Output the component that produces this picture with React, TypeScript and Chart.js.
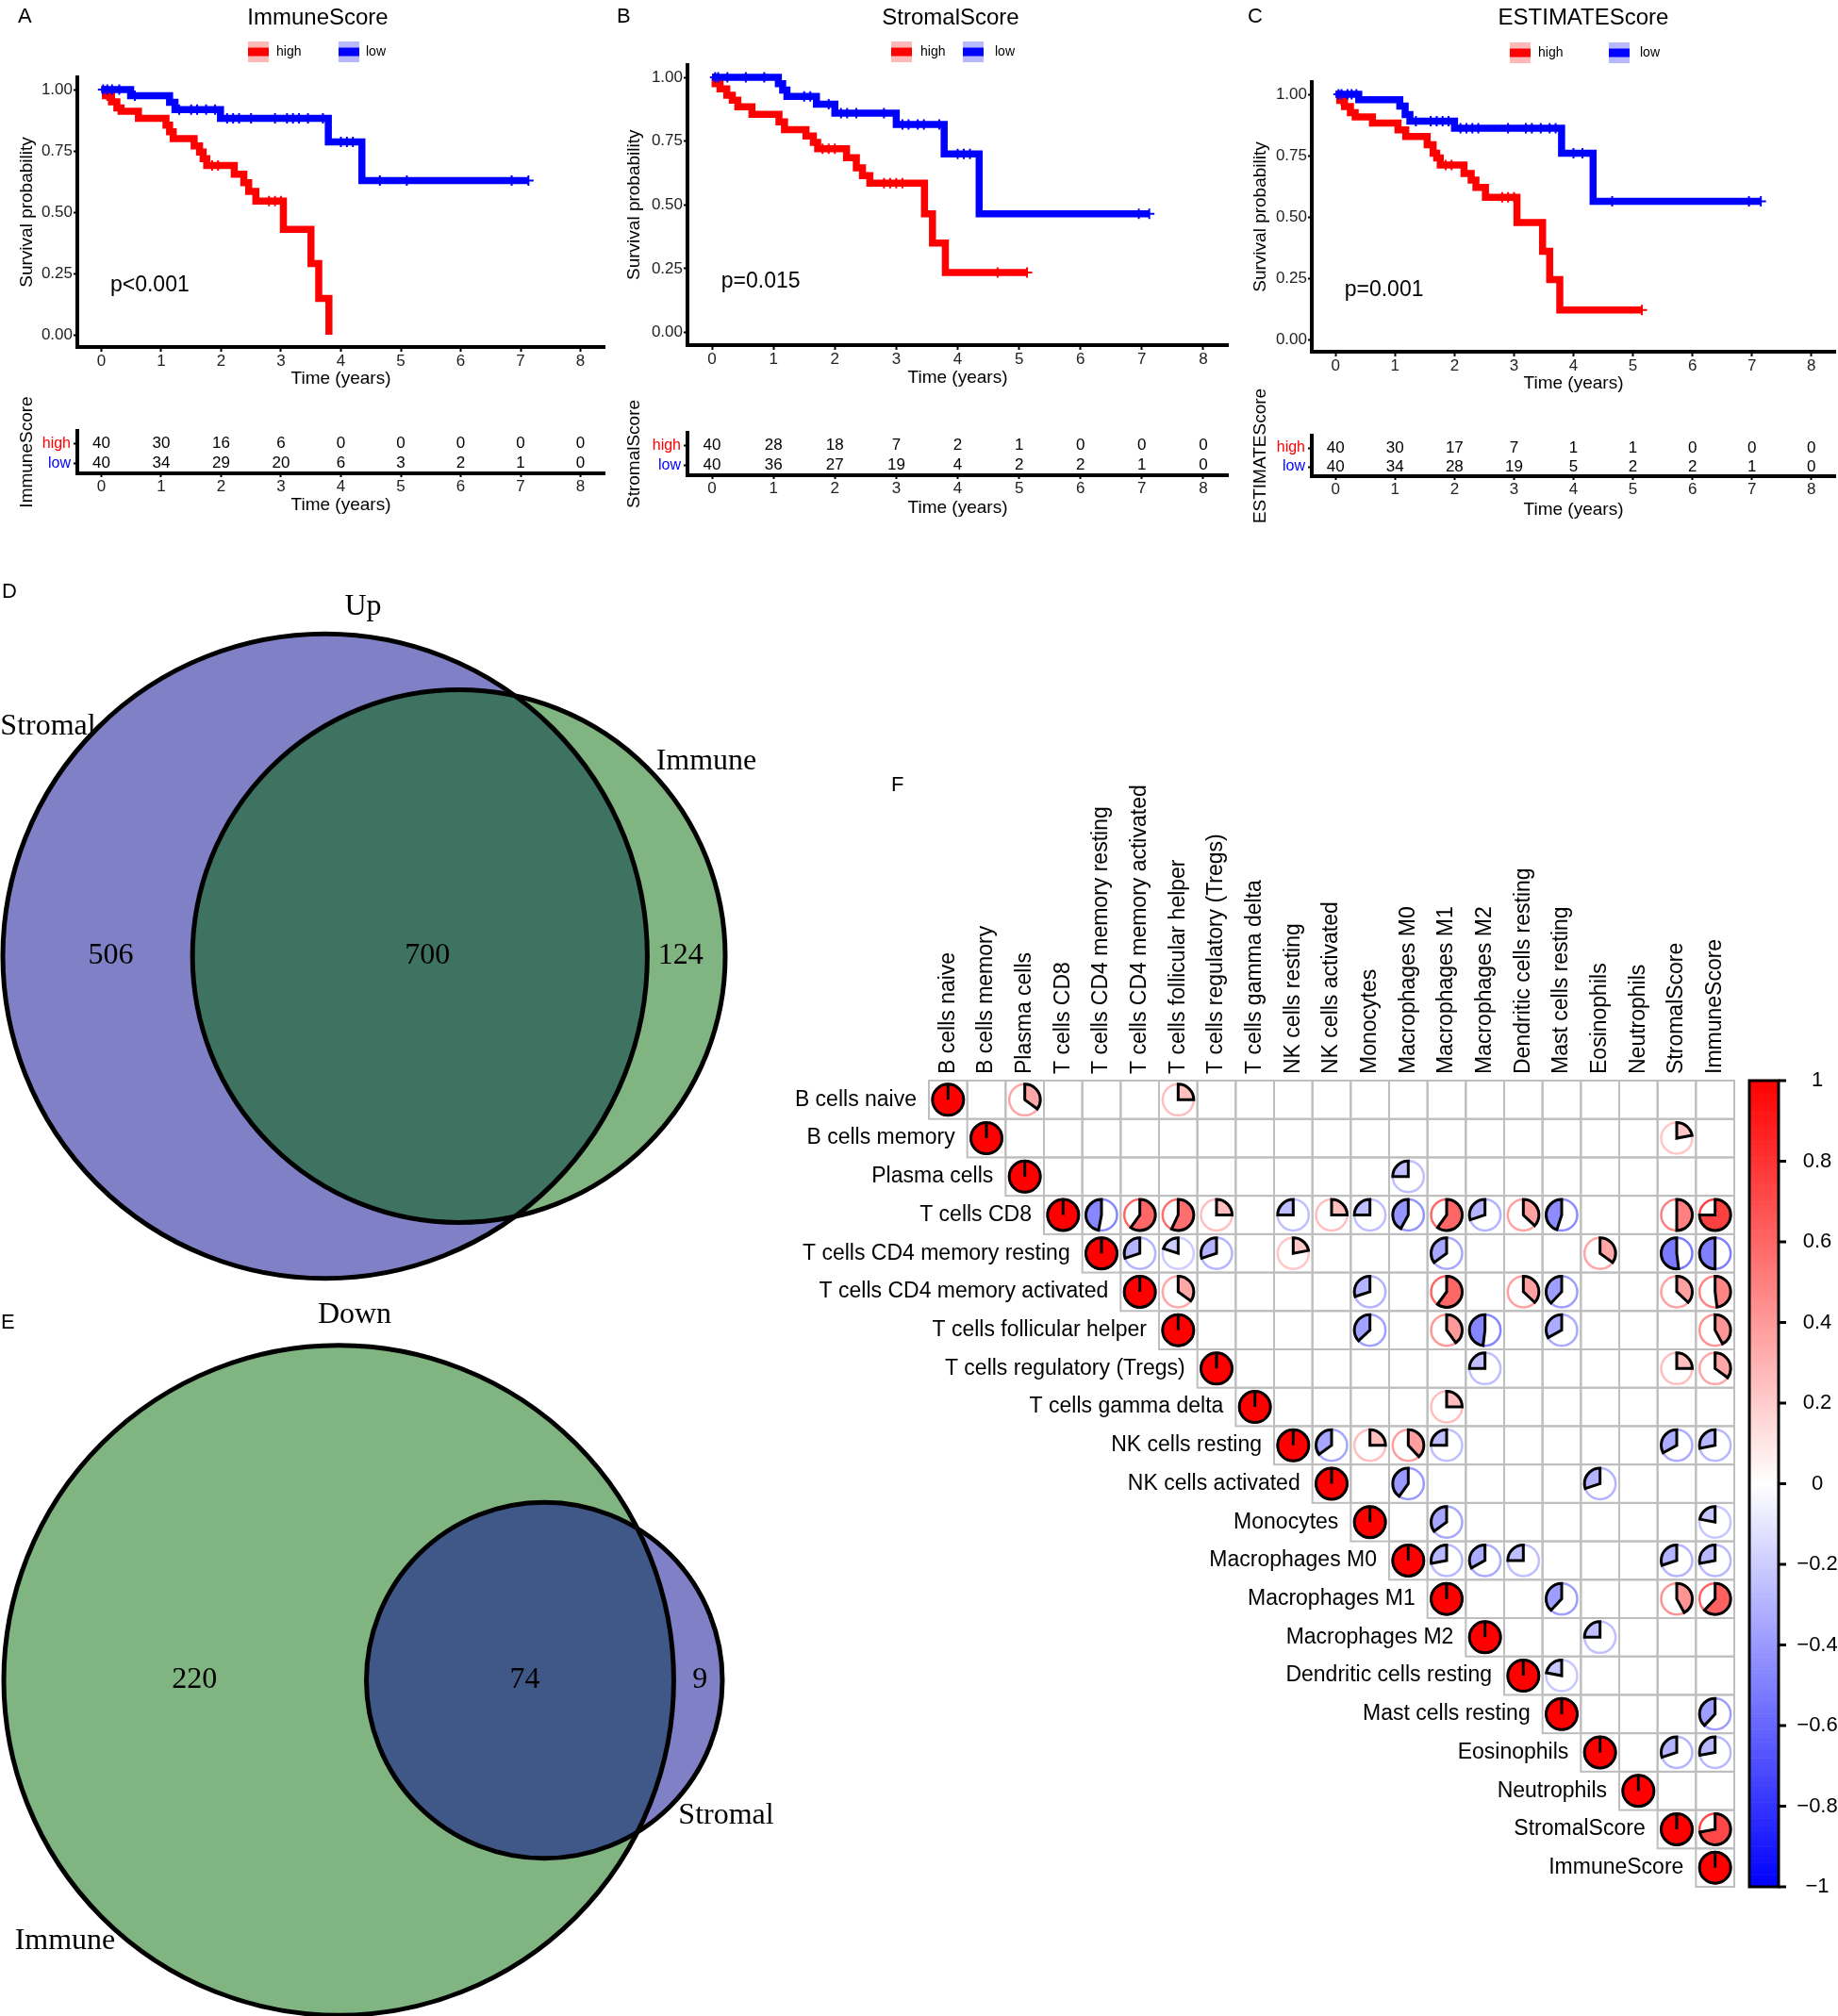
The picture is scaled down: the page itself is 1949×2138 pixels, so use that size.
import React, { useEffect, useRef } from 'react';
import { Chart, registerables } from 'chart.js';
Chart.register(...registerables);

const SANS = '"Liberation Sans", Arial, sans-serif';
const SERIF = '"Liberation Serif", "Times New Roman", serif';
Chart.defaults.font.family = SANS;

// ---------------- survival data ----------------
type Curve = [number, number][];
const timeTicks = [0, 1, 2, 3, 4, 5, 6, 7, 8];
const survTicks = [0, 0.25, 0.5, 0.75, 1];
const groupLabels = ['high', 'low'];

const immuneHigh: Curve = [[0, 1], [0.07, 0.975], [0.17, 0.95], [0.26, 0.925], [0.33, 0.912], [0.62, 0.883], [1.08, 0.855], [1.14, 0.828], [1.2, 0.8], [1.55, 0.77], [1.64, 0.745], [1.7, 0.718], [1.76, 0.69], [2.22, 0.655], [2.38, 0.62], [2.46, 0.585], [2.58, 0.545], [3.04, 0.43], [3.5, 0.29], [3.63, 0.148], [3.8, 0]];
const immuneLow: Curve = [[0, 1], [0.49, 0.975], [1.14, 0.948], [1.23, 0.918], [1.99, 0.883], [3.79, 0.787], [4.35, 0.629], [7.13, 0.629]];
const immuneHighCens = [0.1, 1.85, 1.95, 2.8, 2.9, 3.0];
const immuneLowCens = [0.03, 0.1, 0.18, 0.3, 0.56, 1.3, 1.5, 1.6, 1.75, 1.9, 2.1, 2.2, 2.3, 2.5, 2.9, 3.1, 3.2, 3.3, 3.45, 3.7, 4.0, 4.1, 4.2, 4.65, 5.1, 6.85, 7.13];
const immuneRiskHigh = [40, 30, 16, 6, 0, 0, 0, 0, 0];
const immuneRiskLow = [40, 34, 29, 20, 6, 3, 2, 1, 0];

const stromalHigh: Curve = [[0, 1], [0.05, 0.975], [0.13, 0.955], [0.24, 0.93], [0.33, 0.91], [0.42, 0.885], [0.65, 0.855], [1.09, 0.825], [1.18, 0.795], [1.53, 0.77], [1.65, 0.745], [1.72, 0.72], [2.19, 0.685], [2.35, 0.645], [2.45, 0.615], [2.57, 0.585], [3.46, 0.465], [3.59, 0.35], [3.8, 0.235], [5.13, 0.235]];
const stromalLow: Curve = [[0, 1], [1.08, 0.975], [1.15, 0.95], [1.22, 0.925], [1.7, 0.895], [2.0, 0.86], [3.0, 0.815], [3.78, 0.7], [4.35, 0.465], [7.12, 0.465]];
const stromalHighCens = [0.1, 1.8, 1.9, 2.0, 2.8, 2.9, 3.0, 3.1, 4.65, 5.13];
const stromalLowCens = [0.05, 0.1, 0.25, 0.55, 0.85, 1.5, 1.6, 1.9, 2.1, 2.2, 2.35, 2.8, 3.1, 3.2, 3.35, 3.45, 3.7, 4.0, 4.1, 4.2, 6.95, 7.12];
const stromalRiskHigh = [40, 28, 18, 7, 2, 1, 0, 0, 0];
const stromalRiskLow = [40, 36, 27, 19, 4, 2, 2, 1, 0];

const estimateHigh: Curve = [[0, 1], [0.07, 0.975], [0.15, 0.95], [0.25, 0.925], [0.33, 0.908], [0.62, 0.883], [1.05, 0.855], [1.18, 0.828], [1.54, 0.794], [1.64, 0.76], [1.7, 0.74], [1.76, 0.712], [2.16, 0.677], [2.28, 0.65], [2.36, 0.62], [2.52, 0.58], [3.05, 0.477], [3.48, 0.36], [3.6, 0.244], [3.77, 0.12], [5.15, 0.12]];
const estimateLow: Curve = [[0, 1], [0.39, 0.978], [1.08, 0.952], [1.17, 0.917], [1.25, 0.89], [2.0, 0.862], [3.8, 0.76], [4.33, 0.563], [7.15, 0.563]];
const estimateHighCens = [0.1, 1.85, 1.95, 2.8, 2.9, 3.0, 5.15];
const estimateLowCens = [0.05, 0.1, 0.2, 0.27, 0.35, 1.35, 1.6, 1.7, 1.8, 1.9, 2.1, 2.2, 2.3, 2.4, 2.9, 3.2, 3.3, 3.45, 3.6, 3.7, 4.0, 4.15, 4.65, 6.95, 7.15];
const estimateRiskHigh = [40, 30, 17, 7, 1, 1, 0, 0, 0];
const estimateRiskLow = [40, 34, 28, 19, 5, 2, 2, 1, 0];

// ---------------- Venn data ----------------
const vennUpSets = ['Stromal', 'Immune'];
const vennUpCounts = [506, 700, 124]; // only first, both, only second
const vennDownSets = ['Immune', 'Stromal'];
const vennDownCounts = [220, 74, 9];

// ---------------- correlation data ----------------
const cellTypes = ['B cells naive', 'B cells memory', 'Plasma cells', 'T cells CD8', 'T cells CD4 memory resting', 'T cells CD4 memory activated', 'T cells follicular helper', 'T cells regulatory (Tregs)', 'T cells gamma delta', 'NK cells resting', 'NK cells activated', 'Monocytes', 'Macrophages M0', 'Macrophages M1', 'Macrophages M2', 'Dendritic cells resting', 'Mast cells resting', 'Eosinophils', 'Neutrophils', 'StromalScore', 'ImmuneScore'];
const corrPairs: [number, number, number][] = [
  [0, 2, 0.35], [0, 6, 0.25],
  [1, 19, 0.22],
  [2, 12, -0.25],
  [3, 4, -0.47], [3, 5, 0.6], [3, 6, 0.57], [3, 7, 0.25], [3, 9, -0.25], [3, 10, 0.25], [3, 11, -0.25], [3, 12, -0.42], [3, 13, 0.6], [3, 14, -0.3], [3, 15, 0.37], [3, 16, -0.45], [3, 19, 0.5], [3, 20, 0.75],
  [4, 5, -0.3], [4, 6, -0.2], [4, 7, -0.3], [4, 9, 0.22], [4, 13, -0.35], [4, 17, 0.35], [4, 19, -0.52], [4, 20, -0.5],
  [5, 6, 0.35], [5, 11, -0.3], [5, 13, 0.6], [5, 15, 0.37], [5, 16, -0.38], [5, 19, 0.37], [5, 20, 0.48],
  [6, 11, -0.37], [6, 13, 0.4], [6, 14, -0.48], [6, 16, -0.33], [6, 20, 0.42],
  [7, 14, -0.25], [7, 19, 0.25], [7, 20, 0.35],
  [8, 13, 0.25],
  [9, 10, -0.35], [9, 11, 0.25], [9, 12, 0.38], [9, 13, -0.25], [9, 19, -0.33], [9, 20, -0.28],
  [10, 12, -0.4], [10, 17, -0.3],
  [11, 13, -0.35], [11, 20, -0.22],
  [12, 13, -0.28], [12, 14, -0.33], [12, 15, -0.25], [12, 19, -0.3], [12, 20, -0.28],
  [13, 16, -0.38], [13, 19, 0.42], [13, 20, 0.62],
  [14, 17, -0.25],
  [15, 16, -0.22],
  [16, 20, -0.38],
  [17, 19, -0.3], [17, 20, -0.28],
  [19, 20, 0.72],
];
const colorbarTicks = [1, 0.8, 0.6, 0.4, 0.2, 0, -0.2, -0.4, -0.6, -0.8, -1];

// ---------------- helpers ----------------
const RED = '#FF0000';
const BLUE = '#0000FF';
const KM_H = 425;
const RISK_TOP = 395;
const RISK_BOTTOM = 560;

function survAt(curve: Curve, t: number) {
  let s = curve[0][1];
  for (const [ct, cs] of curve) {
    if (ct <= t) s = cs;
    else break;
  }
  return s;
}

function corrColor(v: number) {
  const t = Math.min(1, Math.abs(v));
  const c = Math.round(255 * (1 - t));
  return v >= 0 ? `rgb(255,${c},${c})` : `rgb(${c},${c},255)`;
}

function lensArea(r1: number, r2: number, d: number) {
  if (d >= r1 + r2) return 0;
  if (d <= Math.abs(r1 - r2)) return Math.PI * Math.min(r1, r2) ** 2;
  const a = r1 * r1 * Math.acos((d * d + r1 * r1 - r2 * r2) / (2 * d * r1));
  const b = r2 * r2 * Math.acos((d * d + r2 * r2 - r1 * r1) / (2 * d * r2));
  const c = 0.5 * Math.sqrt((-d + r1 + r2) * (d + r1 - r2) * (d - r1 + r2) * (d + r1 + r2));
  return a + b - c;
}
function solveDistance(r1: number, r2: number, target: number) {
  let lo = Math.abs(r1 - r2), hi = r1 + r2;
  for (let i = 0; i < 80; i++) {
    const mid = (lo + hi) / 2;
    if (lensArea(r1, r2, mid) > target) lo = mid; else hi = mid;
  }
  return (lo + hi) / 2;
}

const axisBorder = { display: true, width: 4, color: '#000' };
const axisGrid = (tl: number) => ({ display: true, drawOnChartArea: false, drawTicks: true, tickLength: tl, tickWidth: 2, color: '#000', tickColor: '#000' });

// ---------------- KM panels ----------------
interface KMGeom {
  cl: number; cw: number; plotL: number; plotR: number; plotT: number; plotB: number;
  xTitleY: number; yTitleX: number; titleX: number; legendY: number;
  legendBoxes: number[]; legendTexts: number[];
  riskT: number; riskB: number; riskTitleY: number; riskYTitleX: number;
}
interface KMPanel {
  title: string; pval: string; riskTitle: string;
  high: Curve; low: Curve; highCens: number[]; lowCens: number[];
  riskHigh: number[]; riskLow: number[]; g: KMGeom;
}

function kmConfig(p: KMPanel): any {
  const g = p.g;
  const decor = {
    id: 'kmDecor',
    afterDraw(chart: any) {
      const ctx = chart.ctx;
      const xs = chart.scales.x, ys = chart.scales.y;
      ctx.save();
      ctx.fillStyle = '#000';
      ctx.font = `24px ${SANS}`;
      ctx.textAlign = 'center';
      ctx.textBaseline = 'middle';
      ctx.fillText(p.title, g.titleX - g.cl, 19);
      const cols = [RED, BLUE];
      const pale = ['rgba(255,0,0,0.28)', 'rgba(0,0,255,0.28)'];
      groupLabels.forEach((lab, i) => {
        const bx = g.legendBoxes[i] - g.cl;
        ctx.fillStyle = pale[i];
        ctx.fillRect(bx - 11, g.legendY - 11, 22, 22);
        ctx.fillStyle = cols[i];
        ctx.fillRect(bx - 11, g.legendY - 4.5, 22, 9);
        ctx.fillStyle = '#000';
        ctx.font = `14px ${SANS}`;
        ctx.textAlign = 'left';
        ctx.fillText(lab, g.legendTexts[i] - g.cl, g.legendY);
      });
      ctx.font = `23px ${SANS}`;
      ctx.textAlign = 'left';
      ctx.fillStyle = '#000';
      ctx.fillText(p.pval, xs.getPixelForValue(0.15), ys.getPixelForValue(0.2));
      ctx.restore();
    },
  };
  return {
    type: 'scatter',
    data: {
      datasets: [
        { data: p.lowCens.map((t) => ({ x: t, y: survAt(p.low, t) })), pointStyle: 'cross', pointRadius: 5.5, borderColor: BLUE, backgroundColor: BLUE, borderWidth: 2, showLine: false },
        { data: p.highCens.map((t) => ({ x: t, y: survAt(p.high, t) })), pointStyle: 'cross', pointRadius: 5.5, borderColor: RED, backgroundColor: RED, borderWidth: 2, showLine: false },
        { data: p.low.map(([x, y]) => ({ x, y })), showLine: true, stepped: true, borderColor: BLUE, borderWidth: 7.5, pointRadius: 0, fill: false },
        { data: p.high.map(([x, y]) => ({ x, y })), showLine: true, stepped: true, borderColor: RED, borderWidth: 7.5, pointRadius: 0, fill: false },
      ],
    },
    options: {
      responsive: false,
      animation: false,
      events: [],
      layout: { autoPadding: false, padding: { left: 0, top: g.plotT, right: g.cl + g.cw - g.plotR, bottom: 0 } },
      plugins: { legend: { display: false }, tooltip: { enabled: false } },
      scales: {
        x: {
          type: 'linear', min: -0.4, max: 8.4,
          afterBuildTicks: (s: any) => { s.ticks = timeTicks.map((v) => ({ value: v })); },
          afterFit: (s: any) => { s.height = KM_H - g.plotB; },
          border: axisBorder, grid: axisGrid(5),
          ticks: { color: '#222', font: { size: 17, family: SANS }, padding: 0, maxRotation: 0, autoSkip: false, callback: (v: any) => String(v) },
          title: { display: true, text: 'Time (years)', color: '#000', font: { size: 19, family: SANS }, padding: { top: 0, bottom: KM_H - g.xTitleY - 11.4 } },
        },
        y: {
          type: 'linear', min: -0.05, max: 1.05,
          afterBuildTicks: (s: any) => { s.ticks = survTicks.map((v) => ({ value: v })); },
          afterFit: (s: any) => { s.width = g.plotL - g.cl; },
          border: axisBorder, grid: axisGrid(4),
          ticks: { color: '#222', font: { size: 17, family: SANS }, padding: 1, autoSkip: false, callback: (v: any) => Number(v).toFixed(2) },
          title: { display: true, text: 'Survival probability', color: '#000', font: { size: 19, family: SANS }, padding: { top: g.yTitleX - g.cl - 11.4, bottom: 0 } },
        },
      },
    },
    plugins: [decor],
  };
}

function riskConfig(p: KMPanel): any {
  const g = p.g;
  const nums = {
    id: 'riskNums',
    afterDatasetsDraw(chart: any) {
      const ctx = chart.ctx;
      ctx.save();
      ctx.fillStyle = '#000';
      ctx.font = `17px ${SANS}`;
      ctx.textAlign = 'center';
      ctx.textBaseline = 'middle';
      [p.riskHigh, p.riskLow].forEach((vals, di) => {
        const meta = chart.getDatasetMeta(di);
        meta.data.forEach((el: any, i: number) => ctx.fillText(String(vals[i]), el.x, el.y));
      });
      ctx.restore();
    },
  };
  return {
    type: 'scatter',
    data: {
      datasets: [
        { data: timeTicks.map((t) => ({ x: t, y: 0 })), pointRadius: 0 },
        { data: timeTicks.map((t) => ({ x: t, y: 1 })), pointRadius: 0 },
      ],
    },
    options: {
      responsive: false,
      animation: false,
      events: [],
      layout: { autoPadding: false, padding: { left: 0, top: g.riskT - RISK_TOP, right: g.cl + g.cw - g.plotR, bottom: 0 } },
      plugins: { legend: { display: false }, tooltip: { enabled: false } },
      scales: {
        x: {
          type: 'linear', min: -0.4, max: 8.4,
          afterBuildTicks: (s: any) => { s.ticks = timeTicks.map((v) => ({ value: v })); },
          afterFit: (s: any) => { s.height = RISK_BOTTOM - g.riskB; },
          border: axisBorder, grid: axisGrid(4),
          ticks: { color: '#222', font: { size: 17, family: SANS }, padding: 0, maxRotation: 0, autoSkip: false, callback: (v: any) => String(v) },
          title: { display: true, text: 'Time (years)', color: '#000', font: { size: 19, family: SANS }, padding: { top: 0, bottom: RISK_BOTTOM - g.riskTitleY - 11.4 } },
        },
        y: {
          type: 'linear', min: -0.65, max: 1.5, reverse: true,
          afterBuildTicks: (s: any) => { s.ticks = [{ value: 0 }, { value: 1 }]; },
          afterFit: (s: any) => { s.width = g.plotL - g.cl; },
          border: axisBorder, grid: axisGrid(4),
          ticks: { font: { size: 16, family: SANS }, padding: 3, autoSkip: false, callback: (_v: any, i: number) => groupLabels[i], color: (c: any) => (c.index === 0 ? RED : BLUE) },
          title: { display: true, text: p.riskTitle, color: '#000', font: { size: 19, family: SANS }, padding: { top: g.riskYTitleX - g.cl - 11.4, bottom: 0 } },
        },
      },
    },
    plugins: [nums],
  };
}

const panels: KMPanel[] = [
  {
    title: 'ImmuneScore', pval: 'p<0.001', riskTitle: 'ImmuneScore',
    high: immuneHigh, low: immuneLow, highCens: immuneHighCens, lowCens: immuneLowCens,
    riskHigh: immuneRiskHigh, riskLow: immuneRiskLow,
    g: { cl: 0, cw: 650, plotL: 82, plotR: 641, plotT: 82, plotB: 368, xTitleY: 402, yTitleX: 29, titleX: 337, legendY: 55, legendBoxes: [274, 370], legendTexts: [293, 388], riskT: 457, riskB: 502, riskTitleY: 536, riskYTitleX: 29 },
  },
  {
    title: 'StromalScore', pval: 'p=0.015', riskTitle: 'StromalScore',
    high: stromalHigh, low: stromalLow, highCens: stromalHighCens, lowCens: stromalLowCens,
    riskHigh: stromalRiskHigh, riskLow: stromalRiskLow,
    g: { cl: 650, cw: 655, plotL: 729, plotR: 1302, plotT: 68.5, plotB: 366, xTitleY: 401, yTitleX: 673, titleX: 1008, legendY: 55, legendBoxes: [956, 1032], legendTexts: [976, 1055], riskT: 459, riskB: 504, riskTitleY: 539, riskYTitleX: 673 },
  },
  {
    title: 'ESTIMATEScore', pval: 'p=0.001', riskTitle: 'ESTIMATEScore',
    high: estimateHigh, low: estimateLow, highCens: estimateHighCens, lowCens: estimateLowCens,
    riskHigh: estimateRiskHigh, riskLow: estimateRiskLow,
    g: { cl: 1300, cw: 649, plotL: 1391, plotR: 1946, plotT: 87, plotB: 373, xTitleY: 407, yTitleX: 1337, titleX: 1679, legendY: 56, legendBoxes: [1612, 1717], legendTexts: [1631, 1739], riskT: 462, riskB: 505, riskTitleY: 541, riskYTitleX: 1337 },
  },
];

// ---------------- Venn ----------------
interface VennGeom {
  l: number; t: number; w: number; h: number; fitL: number; fitR: number; cy: number;
  colors: string[]; title: string; titlePos: [number, number]; setPos: [number, number][];
  nudge: number[];
}
function vennConfig(sets: string[], counts: number[], vg: VennGeom): any {
  const r1 = Math.sqrt((counts[0] + counts[1]) / Math.PI);
  const r2 = Math.sqrt((counts[1] + counts[2]) / Math.PI);
  const d = solveDistance(r1, r2, counts[1]);
  const left = -r1, right = Math.max(r1, d + r2);
  const k = (vg.fitR - vg.fitL) / (right - left);
  const xmin = left - (vg.fitL - vg.l) / k;
  const xmax = xmin + vg.w / k;
  const ymax = (vg.cy - vg.t) / k;
  const ymin = ymax - vg.h / k;
  const circles = [{ x: 0, y: 0, r: r1 }, { x: d, y: 0, r: r2 }];
  const labelX = [(left + (d - r2)) / 2, ((d - r2) + r1) / 2, (r1 + d + r2) / 2];
  const plugin = {
    id: 'venn',
    afterDatasetsDraw(chart: any) {
      const ctx = chart.ctx;
      const xs = chart.scales.x, ys = chart.scales.y;
      const pc = circles.map((c) => ({
        x: xs.getPixelForValue(c.x), y: ys.getPixelForValue(c.y),
        r: xs.getPixelForValue(c.x + c.r) - xs.getPixelForValue(c.x),
      }));
      const path = (c: any) => { ctx.beginPath(); ctx.arc(c.x, c.y, c.r, 0, Math.PI * 2); };
      ctx.save();
      path(pc[0]); ctx.fillStyle = vg.colors[0]; ctx.fill();
      path(pc[1]); ctx.fillStyle = vg.colors[1]; ctx.fill();
      ctx.save(); path(pc[0]); ctx.clip(); path(pc[1]); ctx.fillStyle = vg.colors[2]; ctx.fill(); ctx.restore();
      ctx.lineWidth = 5; ctx.strokeStyle = '#000';
      path(pc[0]); ctx.stroke();
      path(pc[1]); ctx.stroke();
      ctx.fillStyle = '#000';
      ctx.font = `32px ${SERIF}`;
      ctx.textAlign = 'center';
      ctx.textBaseline = 'middle';
      counts.forEach((n, i) => ctx.fillText(String(n), xs.getPixelForValue(labelX[i]) + vg.nudge[i], ys.getPixelForValue(0)));
      ctx.fillText(vg.title, vg.titlePos[0] - vg.l, vg.titlePos[1] - vg.t);
      sets.forEach((s, i) => ctx.fillText(s, vg.setPos[i][0] - vg.l, vg.setPos[i][1] - vg.t));
      ctx.restore();
    },
  };
  return {
    type: 'scatter',
    data: { datasets: [{ data: circles.map((c) => ({ x: c.x, y: c.y })), pointRadius: 0 }] },
    options: {
      responsive: false, animation: false, events: [],
      layout: { autoPadding: false, padding: 0 },
      plugins: { legend: { display: false }, tooltip: { enabled: false } },
      scales: {
        x: { type: 'linear', min: xmin, max: xmax, display: false },
        y: { type: 'linear', min: ymin, max: ymax, display: false },
      },
    },
    plugins: [plugin],
  };
}

const PURPLE = 'rgb(128,128,198)';
const GREEN = 'rgb(128,180,128)';
const vennUpGeom: VennGeom = { l: 0, t: 600, w: 830, h: 790, fitL: 3, fitR: 769, cy: 1014, colors: [PURPLE, GREEN, 'rgb(63,115,97)'], title: 'Up', titlePos: [385, 644], setPos: [[51, 771], [749, 808]], nudge: [14, 8, -6] };
const vennDownGeom: VennGeom = { l: 0, t: 1380, w: 830, h: 758, fitL: 4, fitR: 766, cy: 1782, colors: [GREEN, PURPLE, 'rgb(64,88,136)'], title: 'Down', titlePos: [376, 1395], setPos: [[69, 2059], [770, 1926]], nudge: [10, 5, 2] };

// ---------------- correlation pie matrix ----------------
function drawPie(ctx: any, x: number, y: number, R: number, v: number) {
  const col = corrColor(v);
  ctx.beginPath();
  ctx.arc(x, y, R, 0, Math.PI * 2);
  ctx.strokeStyle = col;
  ctx.lineWidth = 2.5;
  ctx.stroke();
  ctx.beginPath();
  ctx.moveTo(x, y);
  ctx.lineTo(x, y - R);
  const a0 = -Math.PI / 2;
  ctx.arc(x, y, R, a0, a0 + 2 * Math.PI * v, v < 0);
  ctx.closePath();
  ctx.fillStyle = col;
  ctx.fill();
  ctx.strokeStyle = '#000';
  ctx.lineWidth = 3;
  ctx.lineJoin = 'miter';
  ctx.stroke();
}

function corrConfig(): any {
  const n = cellTypes.length;
  const pts = [
    ...cellTypes.map((_, i) => ({ x: i, y: i, v: 1 })),
    ...corrPairs.map(([r, c, v]) => ({ x: c, y: r, v })),
  ];
  const plugin = {
    id: 'corr',
    beforeDatasetsDraw(chart: any) {
      const ctx = chart.ctx;
      const ca = chart.chartArea;
      const xs = chart.scales.x, ys = chart.scales.y, cb = chart.scales.cb;
      const cw = xs.getPixelForValue(1) - xs.getPixelForValue(0);
      const ch = ys.getPixelForValue(1) - ys.getPixelForValue(0);
      ctx.save();
      ctx.strokeStyle = '#BEBEBE';
      ctx.lineWidth = 2;
      for (let i = 0; i < n; i++) {
        for (let j = i; j < n; j++) {
          const cx = xs.getPixelForValue(j), cy = ys.getPixelForValue(i);
          ctx.strokeRect(cx - cw / 2, cy - ch / 2, cw, ch);
        }
      }
      ctx.fillStyle = '#000';
      ctx.font = `23px ${SANS}`;
      ctx.textBaseline = 'middle';
      ctx.textAlign = 'right';
      cellTypes.forEach((lab, i) => ctx.fillText(lab, xs.getPixelForValue(i) - cw / 2 - 13, ys.getPixelForValue(i)));
      ctx.textAlign = 'left';
      cellTypes.forEach((lab, j) => {
        ctx.save();
        ctx.translate(xs.getPixelForValue(j), ca.top - 7);
        ctx.rotate(-Math.PI / 2);
        ctx.fillText(lab, 0, 0);
        ctx.restore();
      });
      // colour bar
      const x0 = ca.right + 16, w = 31;
      const steps = 200;
      for (let s = 0; s < steps; s++) {
        const v0 = -1 + (2 * s) / steps, v1 = -1 + (2 * (s + 1)) / steps;
        const yA = cb.getPixelForValue(v1), yB = cb.getPixelForValue(v0);
        ctx.fillStyle = corrColor((v0 + v1) / 2);
        ctx.fillRect(x0, yA, w, yB - yA + 0.6);
      }
      ctx.strokeStyle = '#000';
      ctx.lineWidth = 3;
      const yTop = cb.getPixelForValue(1), yBot = cb.getPixelForValue(-1);
      ctx.strokeRect(x0, yTop, w, yBot - yTop);
      ctx.fillStyle = '#000';
      ctx.textAlign = 'center';
      ctx.font = `22px ${SANS}`;
      colorbarTicks.forEach((v) => {
        const y = cb.getPixelForValue(v);
        ctx.beginPath();
        ctx.moveTo(x0 + w, y);
        ctx.lineTo(x0 + w + 8, y);
        ctx.stroke();
        const lab = v === 0 ? '0' : v < 0 ? '\u2212' + String(Math.abs(v)) : String(v);
        ctx.fillText(lab, ca.right + 88, y);
      });
      ctx.restore();
    },
    afterDatasetsDraw(chart: any) {
      const ctx = chart.ctx;
      const meta = chart.getDatasetMeta(0);
      ctx.save();
      meta.data.forEach((el: any, k: number) => drawPie(ctx, el.x, el.y, 16.5, pts[k].v));
      ctx.restore();
    },
  };
  return {
    type: 'scatter',
    data: { datasets: [{ data: pts, pointRadius: 0 }] },
    options: {
      responsive: false, animation: false, events: [],
      layout: { autoPadding: false, padding: { left: 185, right: 110, top: 346, bottom: 39 } },
      plugins: { legend: { display: false }, tooltip: { enabled: false } },
      scales: {
        x: { type: 'linear', min: -0.5, max: n - 0.5, display: false },
        y: { type: 'linear', min: -0.5, max: n - 0.5, reverse: true, display: false },
        cb: { type: 'linear', axis: 'y', position: 'right', min: -1, max: 1, display: false },
      },
    },
    plugins: [plugin],
  };
}

// ---------------- components ----------------
function ChartCanvas({ left, top, width, height, make }: { left: number; top: number; width: number; height: number; make: () => any }) {
  const ref = useRef<HTMLCanvasElement>(null);
  useEffect(() => {
    const chart = new Chart(ref.current as HTMLCanvasElement, make());
    return () => chart.destroy();
  }, []);
  return <canvas ref={ref} width={width} height={height} style={{ position: 'absolute', left, top, width, height }} />;
}

const letterStyle = (left: number, centerY: number): React.CSSProperties => ({
  position: 'absolute', left, top: centerY - 12, fontFamily: SANS, fontSize: 22, lineHeight: '24px', color: '#000',
});

export default function App() {
  useEffect(() => {
    document.body.style.margin = '0';
    document.body.style.overflow = 'hidden';
  }, []);
  return (
    <div style={{ position: 'absolute', left: 0, top: 0, width: 1949, height: 2138, background: '#fff', overflow: 'hidden' }}>
      {panels.map((p, i) => (
        <React.Fragment key={i}>
          <ChartCanvas left={p.g.cl} top={0} width={p.g.cw} height={KM_H} make={() => kmConfig(p)} />
          <ChartCanvas left={p.g.cl} top={RISK_TOP} width={p.g.cw} height={RISK_BOTTOM - RISK_TOP} make={() => riskConfig(p)} />
        </React.Fragment>
      ))}
      <ChartCanvas left={vennUpGeom.l} top={vennUpGeom.t} width={vennUpGeom.w} height={vennUpGeom.h} make={() => vennConfig(vennUpSets, vennUpCounts, vennUpGeom)} />
      <ChartCanvas left={vennDownGeom.l} top={vennDownGeom.t} width={vennDownGeom.w} height={vennDownGeom.h} make={() => vennConfig(vennDownSets, vennDownCounts, vennDownGeom)} />
      <ChartCanvas left={800} top={800} width={1149} height={1240} make={corrConfig} />
      <div style={letterStyle(19, 17)}>A</div>
      <div style={letterStyle(654, 17)}>B</div>
      <div style={letterStyle(1323, 17)}>C</div>
      <div style={letterStyle(2, 627)}>D</div>
      <div style={letterStyle(1, 1402)}>E</div>
      <div style={letterStyle(945, 832)}>F</div>
    </div>
  );
}
